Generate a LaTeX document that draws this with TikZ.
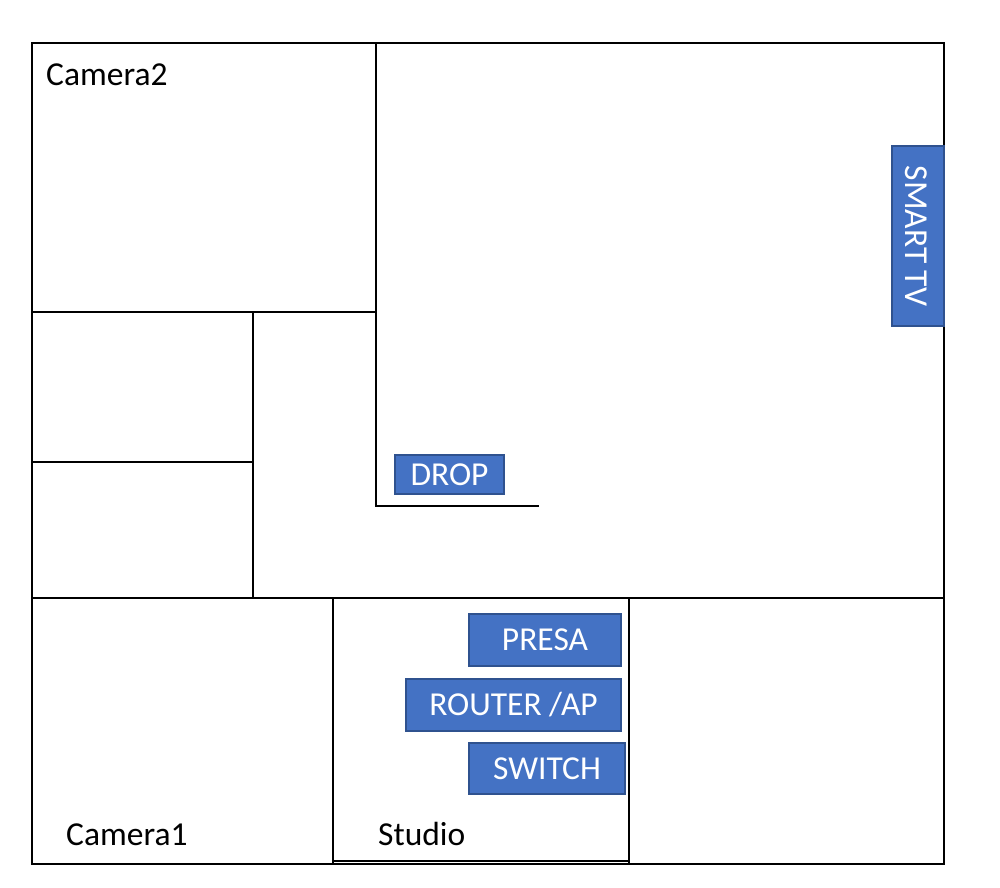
\documentclass[tikz,border=0pt]{standalone}
\usepackage{fontspec}
\setmainfont{Carlito}
\begin{document}
\begin{tikzpicture}[x=1pt,y=-1pt,
  wall/.style={draw=black,line width=2pt},
  device/.style={draw=blueedge,fill=bluefill,line width=1.5pt,text=white,inner sep=0pt,font=\fontsize{33.5}{40}\selectfont},
  label/.style={anchor=base west,inner sep=0pt,font=\fontsize{33.5}{40}\selectfont}]
\definecolor{bluefill}{HTML}{4472C4}
\definecolor{blueedge}{HTML}{2F528F}
\useasboundingbox (0,0) rectangle (1000,887);
% walls
\draw[wall] (32,43) rectangle (944,864);
\draw[wall] (376,43) -- (376,506) -- (539,506);
\draw[wall] (32,312) -- (376,312);
\draw[wall] (253,312) -- (253,598);
\draw[wall] (32,462) -- (253,462);
\draw[wall] (32,598) -- (944,598);
\draw[wall] (333,598) -- (333,864);
\draw[wall] (629,598) -- (629,864);
\draw[wall] (333,861) -- (629,861);
% devices
\node[device,minimum width=52pt,minimum height=180pt] (tv) at (918,236) {};
\node[text=white,rotate=-90,font=\fontsize{33.5}{40}\selectfont,inner sep=0pt] (tvtext) at (916,236) {SMART TV};
\node[device,minimum width=109pt,minimum height=39pt] (drop) at (449.5,474.5) {DROP};
\node[device,minimum width=152pt,minimum height=52pt] (presa) at (545,640) {PRESA};
\node[device,minimum width=215pt,minimum height=52pt] (router) at (513.5,705) {ROUTER /AP};
\node[device,minimum width=156pt,minimum height=51pt] (switch) at (547,768.5) {SWITCH};
% labels
\node[label] (cam2) at (46,85) {Camera2};
\node[label] (cam1) at (66,845) {Camera1};
\node[label] (studio) at (378,845) {Studio};
\end{tikzpicture}
\end{document}
